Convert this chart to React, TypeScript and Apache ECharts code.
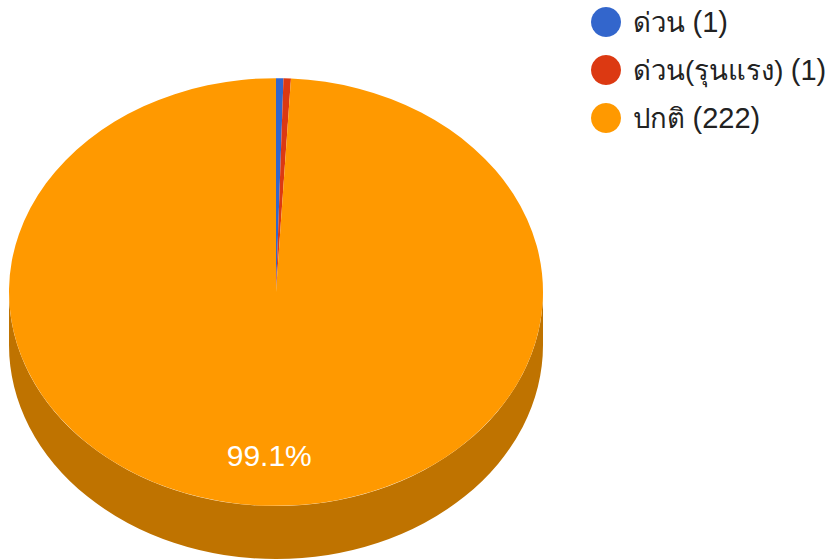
import React, { useEffect, useRef } from "react";
import * as echarts from "echarts";

const categories = ["ด่วน", "ด่วน(รุนแรง)", "ปกติ"];
const values = [1, 1, 222];
const colors = ["#3366CC", "#DC3912", "#FF9900"];
const sideColors = ["#264D99", "#A52B0E", "#BF7300"];

const CX = 276;
const CY = 292;
const RX = 267;
const RY = 214;
const DEPTH = 53;
const LABEL_RADIUS = 0.766;

const total = values.reduce((a, b) => a + b, 0);

function wallPath(from: number, to: number) {
  // clock angles (radians from 12 o'clock, clockwise); only the front half is visible
  const a = Math.max(from, Math.PI / 2);
  const b = Math.min(to, (3 * Math.PI) / 2);
  if (b <= a) return "";
  const px = (t: number) => CX + RX * Math.sin(t);
  const py = (t: number) => CY - RY * Math.cos(t);
  const large = b - a > Math.PI ? 1 : 0;
  return (
    `M${px(a)} ${py(a)}A${RX} ${RY} 0 ${large} 1 ${px(b)} ${py(b)}` +
    `L${px(b)} ${py(b) + DEPTH}A${RX} ${RY} 0 ${large} 0 ${px(a)} ${py(a) + DEPTH}Z`
  );
}

function sliceRenderer(index: number) {
  return () => {
    const before = values.slice(0, index).reduce((a, b) => a + b, 0);
    const from = (before / total) * Math.PI * 2;
    const to = ((before + values[index]) / total) * Math.PI * 2;
    const children: any[] = [];
    const d = wallPath(from, to);
    if (d) {
      children.push({
        type: "path",
        shape: { pathData: d },
        style: { fill: sideColors[index] },
      });
    }
    children.push({
      type: "sector",
      x: CX,
      y: CY,
      scaleY: RY / RX,
      shape: {
        cx: 0,
        cy: 0,
        r0: 0,
        r: RX,
        startAngle: from - Math.PI / 2,
        endAngle: to - Math.PI / 2,
        clockwise: true,
      },
      style: { fill: colors[index] },
    });
    const share = values[index] / total;
    if (share > 0.05) {
      const mid = (from + to) / 2;
      children.push({
        type: "text",
        x: CX + RX * LABEL_RADIUS * Math.sin(mid) - 1,
        y: CY - RY * LABEL_RADIUS * Math.cos(mid),
        style: {
          text: `${(share * 100).toFixed(1)}%`,
          fill: "#ffffff",
          font: '30px "Liberation Sans", Arial, sans-serif',
          align: "center",
          verticalAlign: "middle",
        },
      });
    }
    return { type: "group", children };
  };
}

export default function App() {
  const ref = useRef<HTMLDivElement>(null);
  useEffect(() => {
    const chart = echarts.init(ref.current!, undefined, { renderer: "svg" });
    const names = categories.map((c, i) => `${c} (${values[i]})`);
    chart.setOption({
      animation: false,
      backgroundColor: "#ffffff",
      color: colors,
      legend: {
        orient: "vertical",
        left: 591,
        top: 7,
        padding: 0,
        itemGap: 18,
        itemWidth: 30,
        itemHeight: 30,
        icon: "circle",
        data: names,
        formatter: (name: string) => {
          const i = names.indexOf(name);
          return `{t|${categories[i]}} {n|(${values[i]})}`;
        },
        textStyle: {
          color: "#222222",
          fontSize: 27,
          fontFamily: '"Liberation Sans", Arial, sans-serif',
          padding: [0, 0, 0, 7],
          rich: {
            t: {
              color: "#222222",
              fontSize: 27.5,
              fontFamily: '"Liberation Sans", Arial, sans-serif',
            },
            n: {
              color: "#222222",
              fontSize: 29,
              fontFamily: '"Liberation Sans", Arial, sans-serif',
            },
          },
        },
      },
      series: names.map((name, i) => ({
        type: "custom",
        name,
        coordinateSystem: "none",
        silent: true,
        itemStyle: { color: colors[i] },
        data: [values[i]],
        renderItem: sliceRenderer(i),
      })),
    });
    return () => chart.dispose();
  }, []);
  return (
    <div
      ref={ref}
      style={{ position: "fixed", left: 0, top: 0, width: 831, height: 559 }}
    />
  );
}
